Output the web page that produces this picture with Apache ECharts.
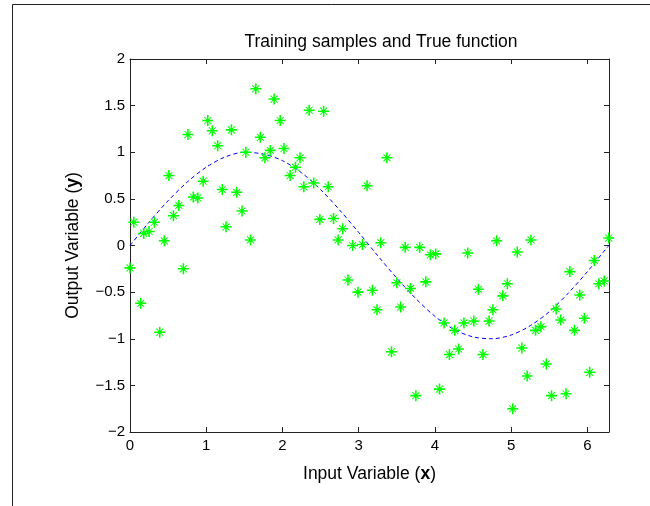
<!DOCTYPE html>
<html>
<head>
<meta charset="utf-8">
<script src="https://cdn.jsdelivr.net/npm/echarts@6/dist/echarts.min.js"></script>
<style>
html,body{margin:0;padding:0;background:#fff;}
#chart{width:650px;height:506px;}
</style>
</head>
<body>
<div id="chart"></div>
<script>
// Training samples
const sampleX = [0.05,0.18,0.25,0.32,0.45,0.51,0.57,0.64,0.76,0.83,0.89,0.96,1.02,1.08,1.15,1.21,1.26,1.33,1.40,1.47,1.52,1.58,1.65,1.71,1.77,1.84,1.89,1.97,2.02,2.10,2.17,2.23,2.28,2.35,2.41,2.49,2.54,2.60,2.67,2.73,2.79,2.92,3.05,3.11,
  0.00,0.14,0.39,0.70,2.86,2.99,
  3.37,3.29,3.61,3.80,4.81,5.26,6.28,
  3.94,4.01,4.43,5.08,3.18,3.24,3.43,3.50,3.55,3.68,3.75,3.88,4.06,4.12,4.19,4.26,4.31,4.38,4.51,4.57,4.63,4.71,4.76,4.89,4.95,5.02,5.14,5.21,5.32,5.39,5.46,5.53,5.59,5.65,5.72,5.77,5.83,5.90,5.96,6.03,6.09,6.15,6.22];
const sampleY = [0.25,0.13,0.15,0.25,0.05,0.75,0.32,0.43,1.19,0.52,0.51,0.69,1.34,1.23,1.07,0.60,0.20,1.24,0.57,0.37,1.00,0.06,1.68,1.16,0.94,1.02,1.57,1.34,1.04,0.75,0.84,0.94,0.63,1.45,0.67,0.28,1.44,0.63,0.29,0.06,0.18,0.00,0.01,0.64,
  -0.24,-0.62,-0.93,-0.25,-0.37,-0.50,
  0.94,0.03,-0.02,-0.02,0.05,0.06,0.08,
  -0.10,-0.09,-0.08,-0.07,-0.48,-0.69,-1.14,-0.40,-0.66,-0.46,-1.61,-0.39,-1.54,-0.83,-1.17,-0.91,-1.11,-0.83,-0.81,-0.47,-1.17,-0.81,-0.69,-0.54,-0.41,-1.75,-1.10,-1.40,-0.91,-0.87,-1.27,-1.61,-0.68,-0.80,-1.59,-0.28,-0.91,-0.53,-0.78,-1.36,-0.16,-0.41,-0.38];

// True function (dashed curve)
const trueX = [0,0.25,0.5,0.75,1.0,1.25,1.5,1.75,2.0,2.25,2.5,2.75,3.0,3.25,3.5,3.75,4.0,4.25,4.5,4.75,5.0,5.25,5.5,5.75,6.0,6.25,6.283];
const trueY = [0,0.25,0.48,0.68,0.84,0.95,1.00,0.98,0.91,0.78,0.60,0.38,0.14,-0.11,-0.35,-0.57,-0.76,-0.90,-0.98,-1.00,-0.96,-0.86,-0.71,-0.51,-0.28,-0.03,0];

const xTicks = [0,1,2,3,4,5,6];
const yTicks = [-2,-1.5,-1,-0.5,0,0.5,1,1.5,2];

const titleText = 'Training samples and True function';

const FONT = '"Liberation Sans", Arial, Helvetica, sans-serif';
const axisColor = '#222';
const starPath = 'path://M8.6,0 L11.4,0 L11.4,20 L8.6,20 Z M0,8.6 L20,8.6 L20,11.4 L0,11.4 Z M4.2,3.0 L17.0,15.8 L15.8,17.0 L3.0,4.2 Z M15.8,3.0 L17.0,4.2 L4.2,17.0 L3.0,15.8 Z M7.5,7.5 L12.5,7.5 L12.5,12.5 L7.5,12.5 Z';

const fmt = v => String(v).replace('-', '\u2212');

const chart = echarts.init(document.getElementById('chart'), null, {renderer:'canvas'});
const baseAxis = {
  axisLine:{show:true, onZero:false, lineStyle:{color:axisColor, width:1}},
  axisTick:{show:true, inside:true, length:5, lineStyle:{color:axisColor}},
  splitLine:{show:false}
};
chart.setOption({
  animation:false,
  backgroundColor:'#fff',
  textStyle:{fontFamily:FONT},
  title:{
    text:titleText, left:376, top:28, textAlign:'center',
    textStyle:{fontFamily:FONT, fontSize:17.5, fontWeight:'normal', color:'#000'}
  },
  graphic:[{
    type:'polyline', shape:{points:[[12.5,506],[12.5,4.5],[650,4.5]]},
    style:{stroke:'#222', lineWidth:1, fill:null}
  }],
  grid:{left:130, top:59, width:479, height:373, containLabel:false},
  xAxis:[
    Object.assign({}, baseAxis, {
      type:'value', min:0, max:2*Math.PI, interval:1, position:'bottom',
      axisLabel:{show:true, margin:6, fontSize:15, color:'#000', fontFamily:FONT, showMaxLabel:false,
        formatter:v => xTicks.includes(v) ? fmt(v) : ''},
      name:'{n|Input Variable (}{b|x}{n|)}', nameLocation:'middle', nameGap:33,
      nameTextStyle:{rich:{n:{fontSize:17.5, fontFamily:FONT, color:'#000'}, b:{fontSize:17.5, fontFamily:FONT, fontWeight:'bold', color:'#000'}}}
    }),
    Object.assign({}, baseAxis, {
      type:'value', min:0, max:2*Math.PI, interval:1, position:'top',
      axisLabel:{show:false}
    })
  ],
  yAxis:[
    Object.assign({}, baseAxis, {
      type:'value', min:-2, max:2, interval:0.5, position:'left',
      axisLabel:{show:true, margin:5, fontSize:15, color:'#000', fontFamily:FONT,
        formatter:v => yTicks.includes(v) ? fmt(v) : ''},
      name:'{n|Output Variable (}{b|y}{n|)}', nameLocation:'middle', nameGap:48,
      nameTextStyle:{rich:{n:{fontSize:17.5, fontFamily:FONT, color:'#000'}, b:{fontSize:17.5, fontFamily:FONT, fontWeight:'bold', color:'#000'}}}
    }),
    Object.assign({}, baseAxis, {
      type:'value', min:-2, max:2, interval:0.5, position:'right',
      axisLabel:{show:false}
    })
  ],
  series:[
    {
      type:'line', xAxisIndex:0, yAxisIndex:0,
      data: trueX.map((x,i)=>[x,trueY[i]]),
      smooth:0.3, showSymbol:false, symbol:'none',
      lineStyle:{color:'#0000ff', width:1, type:[4,3]},
      z:2
    },
    {
      type:'scatter', xAxisIndex:0, yAxisIndex:0,
      data: sampleX.map((x,i)=>[x,sampleY[i]]),
      symbol:starPath, symbolSize:11,
      itemStyle:{color:'#00ff00', opacity:1},
      z:3
    }
  ]
});
</script>
</body>
</html>
